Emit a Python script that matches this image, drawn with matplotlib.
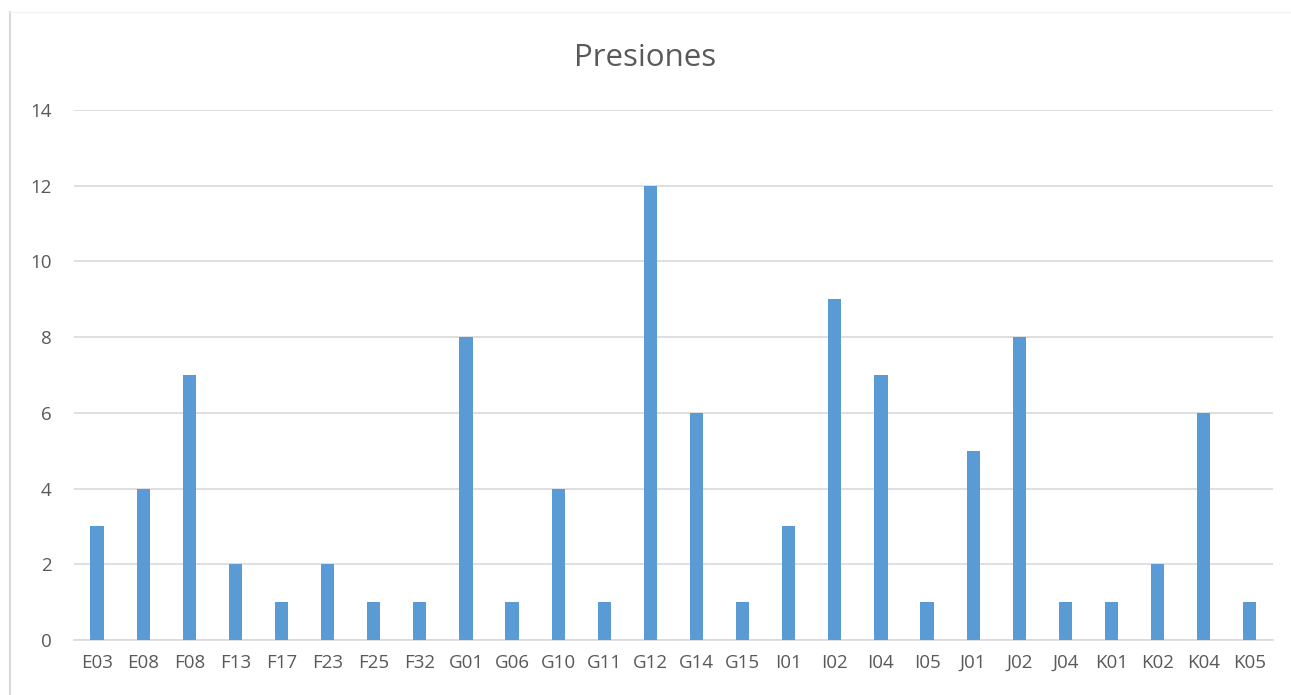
import matplotlib.pyplot as plt
from matplotlib.lines import Line2D

categories = ['E03', 'E08', 'F08', 'F13', 'F17', 'F23', 'F25', 'F32', 'G01', 'G06',
              'G10', 'G11', 'G12', 'G14', 'G15', 'I01', 'I02', 'I04', 'I05', 'J01',
              'J02', 'J04', 'K01', 'K02', 'K04', 'K05']
values = [3, 4, 7, 2, 1, 2, 1, 1, 8, 1, 4, 1, 12, 6, 1, 3, 9, 7, 1, 5, 8, 1, 1, 2, 6, 1]
yticks = [0, 2, 4, 6, 8, 10, 12, 14]

plt.rcParams['font.family'] = ['Open Sans', 'DejaVu Sans']
text_color = '#595959'

fig = plt.figure(figsize=(12.91, 6.95), dpi=100)
ax = fig.add_axes([0.0573, 0.0791, 0.9287, 0.7626])

x = range(len(categories))
ax.bar(x, values, width=0.286, color='#5B9BD5', zorder=3)

ax.set_xlim(-0.5, len(categories) - 0.5)
ax.set_ylim(0, 14)
ax.set_yticks(yticks)
ax.set_xticks(list(x))
ax.set_xticklabels(categories)
ax.grid(axis='y', color='#D9D9D9', linewidth=1.2, zorder=0)
for s in ['top', 'right', 'left']:
    ax.spines[s].set_visible(False)
ax.spines['bottom'].set_color('#D9D9D9')
ax.spines['bottom'].set_linewidth(1.2)
ax.tick_params(axis='both', length=0, labelsize=13.5, labelcolor=text_color)
ax.tick_params(axis='x', pad=10)
ax.tick_params(axis='y', pad=16)

fig.text(0.5, 0.916, 'Presiones', ha='center', va='center', fontsize=22.5, color=text_color)

# faint chart border at left/top
fig.add_artist(Line2D([10 / 1291, 10 / 1291], [0, 1 - 12 / 695], transform=fig.transFigure,
                      color='#D9D9D9', linewidth=1.5))
fig.add_artist(Line2D([10 / 1291, 1], [1 - 12 / 695, 1 - 12 / 695], transform=fig.transFigure,
                      color='#F2F2F2', linewidth=1))

fig.savefig('out.png', dpi=100)
